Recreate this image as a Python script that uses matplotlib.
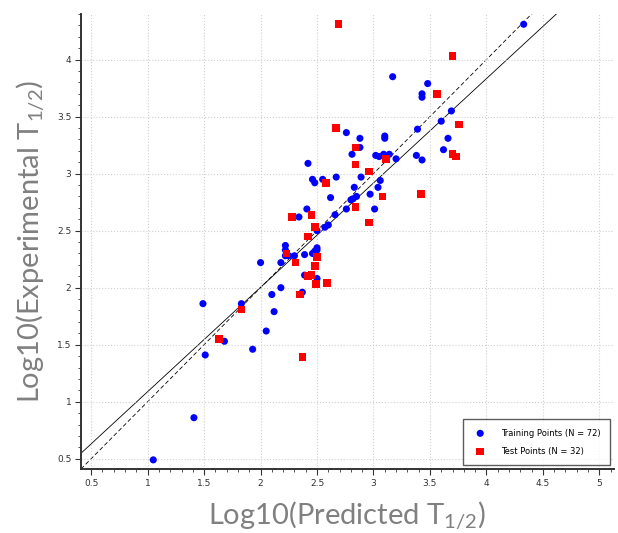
import numpy as np
import matplotlib
matplotlib.use("Agg")
import matplotlib.pyplot as plt
from matplotlib.ticker import MultipleLocator

plt.rcParams['mathtext.fontset'] = 'custom'
plt.rcParams['mathtext.rm'] = 'Lato'
plt.rcParams['mathtext.it'] = 'Lato'

# training points (predicted, experimental)
train_pred = [4.33, 3.17, 3.48, 3.43, 3.43, 3.69, 3.60, 3.39, 2.76, 2.88,
              3.10, 3.10, 3.66, 2.88, 3.62, 2.81, 3.02, 3.05, 3.09, 3.14,
              3.38, 3.20, 3.43, 2.42, 2.67, 2.89, 2.46, 2.55, 2.48, 3.06,
              3.04, 2.83, 2.97, 2.62, 2.80, 2.85, 2.82, 2.41, 2.76, 3.01,
              2.66, 2.34, 2.57, 2.60, 2.50, 2.22, 2.22, 2.22, 2.30, 2.39,
              2.46, 2.50, 2.50, 2.18, 2.00, 2.39, 2.50, 2.18, 2.10, 2.37,
              1.83, 1.49, 2.12, 2.05, 1.68, 1.93, 1.51, 1.41, 1.05, 2.44,
              2.48, 2.25]
train_exp = [4.31, 3.85, 3.79, 3.70, 3.67, 3.55, 3.46, 3.39, 3.36, 3.31,
             3.33, 3.31, 3.31, 3.23, 3.21, 3.17, 3.16, 3.15, 3.17, 3.17,
             3.16, 3.13, 3.12, 3.09, 2.97, 2.97, 2.95, 2.95, 2.92, 2.94,
             2.88, 2.88, 2.82, 2.79, 2.77, 2.80, 2.78, 2.69, 2.69, 2.69,
             2.64, 2.62, 2.53, 2.55, 2.50, 2.37, 2.33, 2.28, 2.28, 2.29,
             2.30, 2.33, 2.35, 2.22, 2.22, 2.11, 2.08, 2.00, 1.94, 1.96,
             1.86, 1.86, 1.79, 1.62, 1.53, 1.46, 1.41, 0.86, 0.49, 2.11,
             2.32, 2.28]

# test points
test_pred = [2.69, 3.70, 3.56, 3.76, 2.67, 2.84, 3.70, 3.73, 3.11, 2.84,
             2.96, 2.58, 3.42, 3.08, 2.84, 2.96, 2.28, 2.45, 2.48, 2.42,
             2.23, 2.50, 2.31, 2.48, 2.42, 2.45, 2.49, 2.59, 2.35, 1.83,
             1.63, 2.37]
test_exp = [4.31, 4.03, 3.70, 3.43, 3.40, 3.23, 3.17, 3.15, 3.13, 3.08,
            3.02, 2.92, 2.82, 2.80, 2.71, 2.57, 2.62, 2.64, 2.53, 2.45,
            2.30, 2.27, 2.22, 2.19, 2.10, 2.11, 2.03, 2.04, 1.94, 1.81,
            1.55, 1.39]

# regression line y = a*x + b
fit_slope = 0.915
fit_icpt = 0.173

fig = plt.figure(figsize=(6.18, 5.33), dpi=100)
ax = fig.add_axes([81/618, 1 - 469/533, (614-81)/618, (469-14)/533])

xlim = (0.41, 5.13)
ylim = (0.41, 4.40)
xx = np.array(xlim)
ax.plot(xx, fit_slope*xx + fit_icpt, color='black', lw=0.6, zorder=1)
ax.plot(xx, xx, color='black', lw=0.6, ls=(0, (5, 3)), zorder=1)

ax.scatter(train_pred, train_exp, s=26, marker='o', color='#0000ff',
           edgecolors='none', zorder=3, label='Training Points (N = 72)')
ax.scatter(test_pred, test_exp, s=30, marker='s', color='#ff0000',
           edgecolors='none', zorder=3, label='Test Points (N = 32)')

ax.set_xlim(*xlim)
ax.set_ylim(*ylim)
ax.xaxis.set_major_locator(MultipleLocator(0.5))
ax.xaxis.set_minor_locator(MultipleLocator(0.1))
ax.yaxis.set_major_locator(MultipleLocator(0.5))
ax.yaxis.set_minor_locator(MultipleLocator(0.1))
ax.xaxis.set_major_formatter(lambda v, p: f"{v:g}")
ax.yaxis.set_major_formatter(lambda v, p: f"{v:g}")
ax.grid(True, which='major', color='#d0d0d0', ls=':', lw=0.8)

for s in ['top', 'right']:
    ax.spines[s].set_visible(False)
for s in ['left', 'bottom']:
    ax.spines[s].set_color('#333333')
    ax.spines[s].set_linewidth(1.4)
ax.tick_params(which='major', length=4, width=0.8, labelsize=6.5,
               colors='#333333', pad=3)
ax.tick_params(which='minor', length=2, width=0.6, colors='#333333')

ax.set_xlabel('Log10(Predicted T$_{1/2}$)', family='Lato', fontsize=21,
              color='#808080', labelpad=9)
ax.set_ylabel('Log10(Experimental T$_{1/2}$)', family='Lato', fontsize=21,
              color='#808080', labelpad=7)

leg = ax.legend(loc='lower right', fontsize=6, frameon=True, fancybox=False,
                edgecolor='#333333', borderpad=1.1, labelspacing=1.1,
                handletextpad=1.5, bbox_to_anchor=(1.0, 0.0))
leg.get_frame().set_linewidth(1.0)

fig.savefig('out.png', dpi=100)
